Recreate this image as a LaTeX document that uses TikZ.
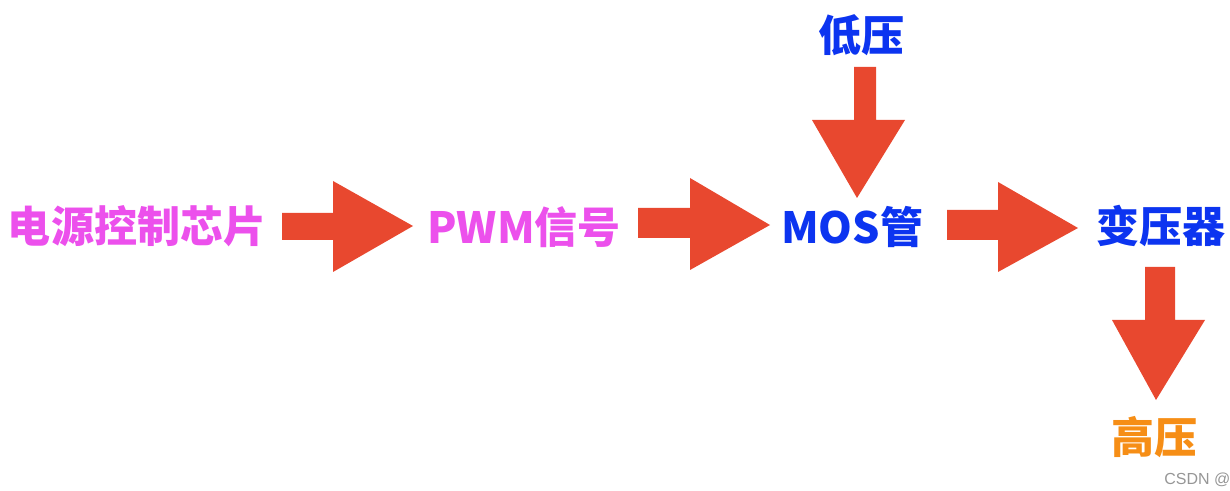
\documentclass[tikz,border=0pt]{standalone}
\usepackage{fontspec}
\newfontfamily\cjk{Noto Sans CJK SC}
\newfontfamily\wm{Liberation Sans}
\definecolor{arrowred}{RGB}{232,72,47}
\definecolor{pinkmag}{RGB}{236,80,236}
\definecolor{vblue}{RGB}{12,52,240}
\definecolor{vorange}{RGB}{246,142,22}
\definecolor{wmgray}{RGB}{150,150,150}
\tikzset{
  lbl/.style={font=\cjk\bfseries\fontsize{21.5}{26}\selectfont, inner sep=0pt},
  blockarrow/.style={fill=arrowred, draw=none},
}
\begin{document}
\begin{tikzpicture}[x=0.5pt,y=-0.5pt]
\useasboundingbox (0,0) rectangle (1230,491);
% labels
\node[lbl, text=pinkmag] (chip) at (137,226) {电源控制芯片};
\node[lbl, text=pinkmag] (pwm) at (524,227) {PWM信号};
\node[lbl, text=vblue] (mos) at (852,227) {MOS管};
\node[lbl, text=vblue] (low) at (861,35) {低压};
\node[lbl, text=vblue, anchor=east] (trans) at (1226,226) {变压器};
\node[lbl, text=vorange] (high) at (1154,437) {高压};
\node[font=\wm\fontsize{8}{10}\selectfont, text=wmgray, anchor=west, inner sep=0pt] (wmk) at (1164,480) {CSDN @};
% block arrows
\fill[blockarrow] (282,213) -- (333,213) -- (333,181) -- (413,226) -- (333,272) -- (333,240) -- (282,240) -- cycle;
\fill[blockarrow] (638,208) -- (690,208) -- (690,178) -- (770,225) -- (690,270) -- (690,238) -- (638,238) -- cycle;
\fill[blockarrow] (947,210) -- (998,210) -- (998,182) -- (1078,228) -- (998,272) -- (998,240) -- (947,240) -- cycle;
\fill[blockarrow] (854,67) -- (876,67) -- (876,120) -- (905,120) -- (857,198) -- (812,120) -- (854,120) -- cycle;
\fill[blockarrow] (1145,267) -- (1175,267) -- (1175,320) -- (1205,320) -- (1156,400) -- (1112,320) -- (1145,320) -- cycle;
\end{tikzpicture}
\end{document}
